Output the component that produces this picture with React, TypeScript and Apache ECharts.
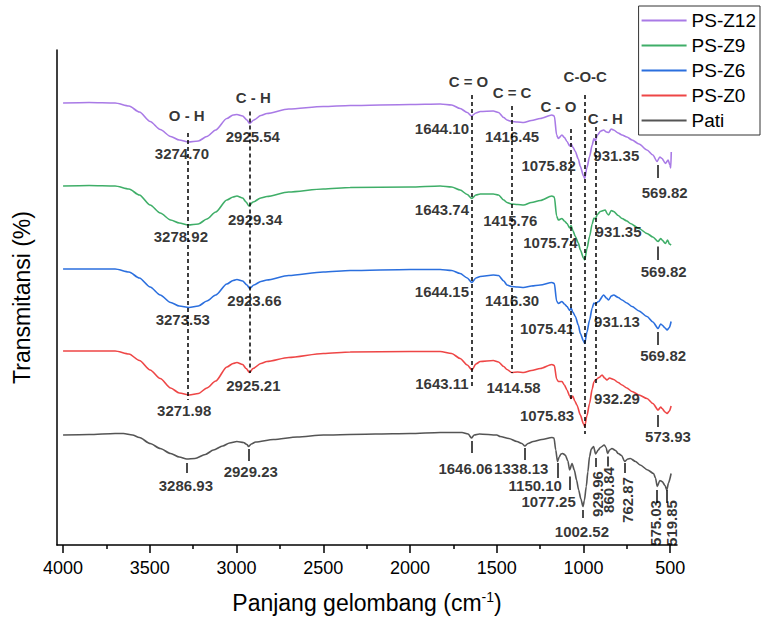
import React, { useEffect, useRef } from 'react';
import * as echarts from 'echarts';

const FONT = '"Liberation Sans", Arial, Helvetica, sans-serif';

// ---- spectra: [wavenumber (cm-1), transmittance (arb. %, offset per sample)] ----
const psZ12: number[][] = [
  [4000, 88.4], [3850, 88.5], [3700, 88.4], [3620, 87.8], [3560, 86.6], [3498, 84.7], [3440, 83.1], [3380, 81.7],
  [3330, 81.0], [3277, 80.6], [3220, 80.8], [3171, 81.7], [3120, 83.0], [3056, 85.3], [3020, 86.0], [2998, 86.1],
  [2965, 85.8], [2940, 85.0], [2925, 84.3], [2900, 85.0], [2860, 85.9], [2825, 86.3], [2700, 87.2], [2500, 87.7],
  [2345, 87.9], [2000, 88.1], [1826, 88.2], [1760, 88.0], [1711, 87.3], [1670, 86.5], [1646, 85.8], [1620, 86.4],
  [1595, 86.7], [1520, 86.8], [1490, 86.5], [1460, 85.5], [1441, 85.0], [1416, 84.7], [1380, 84.6], [1345, 84.5],
  [1300, 84.9], [1249, 85.3], [1182, 86.0], [1168, 85.8], [1155, 82.0], [1145, 81.3], [1124, 82.0], [1110, 81.5],
  [1095, 80.7], [1080, 79.8], [1072, 80.3], [1060, 79.5], [1047, 78.7], [1030, 77.2], [1018, 75.7], [1000, 73.8],
  [993, 73.3], [980, 75.5], [965, 77.7], [950, 80.0], [940, 81.3], [932, 80.8], [920, 82.0], [900, 82.8],
  [884, 83.0], [868, 82.6], [855, 82.5], [840, 83.2], [826, 83.0], [800, 82.4], [778, 82.0], [750, 81.6],
  [720, 81.0], [680, 80.2], [634, 79.0], [600, 78.0], [576, 76.7], [560, 77.6], [547, 77.3], [528, 76.3],
  [512, 77.0], [502, 76.0], [497, 75.4], [494, 78.6],
];

const psZ9: number[][] = [
  [4000, 71.8], [3850, 71.9], [3700, 71.8], [3620, 71.2], [3560, 70.0], [3498, 68.0], [3440, 66.4], [3380, 65.0],
  [3330, 64.4], [3279, 64.0], [3220, 64.2], [3171, 65.2], [3120, 66.6], [3056, 69.0], [3020, 69.6], [2998, 69.8],
  [2965, 69.4], [2945, 68.6], [2929, 67.8], [2905, 68.6], [2860, 69.4], [2825, 69.7], [2700, 70.6], [2500, 71.2],
  [2345, 71.5], [2000, 71.6], [1826, 71.8], [1760, 71.6], [1711, 71.0], [1670, 70.1], [1644, 69.3], [1620, 70.0],
  [1595, 70.2], [1520, 70.2], [1490, 70.0], [1460, 69.0], [1441, 68.5], [1416, 68.2], [1380, 68.1], [1345, 68.0],
  [1300, 68.5], [1249, 68.9], [1182, 69.8], [1168, 69.6], [1155, 65.8], [1145, 65.0], [1124, 65.3], [1110, 64.8],
  [1095, 64.3], [1080, 63.4], [1072, 63.9], [1060, 62.8], [1047, 61.7], [1030, 60.4], [1018, 59.0], [1000, 57.4],
  [993, 57.0], [980, 59.3], [965, 61.7], [950, 64.2], [940, 65.4], [932, 65.2], [920, 66.1], [903, 66.7],
  [875, 67.0], [862, 66.2], [855, 66.0], [840, 66.9], [826, 66.7], [800, 65.9], [778, 65.3], [750, 64.8],
  [730, 64.3], [680, 63.3], [634, 62.3], [600, 61.6], [570, 60.7], [555, 61.3], [547, 61.0], [528, 60.3],
  [515, 61.0], [505, 60.2], [495, 60.0],
];

const psZ6: number[][] = [
  [4000, 55.2], [3850, 55.2], [3700, 55.2], [3620, 54.6], [3560, 53.4], [3498, 51.6], [3440, 50.0], [3380, 48.5],
  [3330, 47.8], [3274, 47.5], [3220, 47.8], [3171, 48.8], [3120, 50.0], [3056, 52.2], [3020, 52.9], [2998, 53.1],
  [2965, 52.8], [2940, 52.0], [2924, 51.3], [2900, 52.0], [2860, 52.7], [2825, 53.0], [2700, 53.9], [2500, 54.6],
  [2345, 54.9], [2000, 55.1], [1826, 55.1], [1760, 54.9], [1711, 54.3], [1670, 53.4], [1644, 52.5], [1620, 53.4],
  [1595, 53.7], [1520, 54.0], [1490, 53.9], [1460, 52.8], [1441, 52.0], [1416, 51.7], [1380, 51.6], [1345, 51.5],
  [1300, 51.8], [1249, 52.0], [1182, 52.5], [1168, 52.3], [1155, 48.8], [1145, 48.3], [1124, 48.7], [1110, 48.2],
  [1095, 47.7], [1080, 46.9], [1072, 47.4], [1060, 46.5], [1047, 45.7], [1030, 44.0], [1018, 42.3], [1000, 40.8],
  [993, 40.3], [980, 42.6], [965, 45.0], [950, 47.4], [940, 48.4], [932, 48.2], [913, 48.7], [884, 50.0],
  [868, 49.4], [855, 49.0], [840, 49.8], [826, 50.0], [800, 49.5], [778, 49.0], [750, 48.4], [720, 47.7],
  [680, 46.8], [634, 45.7], [600, 44.6], [570, 43.3], [555, 44.2], [547, 44.0], [530, 43.4], [518, 43.0],
  [505, 43.5], [495, 44.7],
];

const psZ0: number[][] = [
  [4000, 38.8], [3850, 38.8], [3700, 38.8], [3620, 38.2], [3560, 36.9], [3498, 35.0], [3440, 33.3], [3380, 31.4],
  [3330, 30.4], [3272, 30.0], [3220, 30.3], [3171, 31.4], [3120, 32.8], [3056, 35.6], [3020, 36.3], [2998, 36.5],
  [2965, 36.1], [2945, 35.3], [2925, 34.5], [2905, 35.3], [2860, 36.3], [2825, 36.7], [2700, 37.5], [2500, 38.3],
  [2345, 38.6], [2000, 38.7], [1826, 38.7], [1760, 38.3], [1711, 37.3], [1670, 36.0], [1643, 35.0], [1620, 36.2],
  [1595, 36.7], [1520, 36.9], [1490, 36.6], [1460, 35.7], [1441, 35.1], [1414, 34.5], [1380, 34.6], [1345, 34.5],
  [1300, 34.9], [1249, 35.3], [1182, 36.1], [1168, 35.9], [1155, 33.2], [1145, 32.7], [1124, 32.7], [1110, 32.0],
  [1095, 31.0], [1080, 29.8], [1073, 29.3], [1062, 29.8], [1050, 28.8], [1038, 28.0], [1018, 26.0], [1000, 24.2],
  [993, 23.7], [980, 25.9], [965, 28.3], [950, 31.2], [940, 32.6], [932, 33.0], [910, 33.5], [893, 34.0],
  [878, 33.4], [865, 33.0], [850, 33.4], [826, 33.1], [800, 32.5], [778, 32.0], [750, 31.4], [720, 30.7],
  [680, 30.0], [634, 29.3], [600, 28.3], [570, 27.0], [555, 27.6], [547, 27.3], [530, 26.6], [518, 26.3],
  [505, 26.8], [495, 27.8],
];

const pati: number[][] = [
  [4000, 22.0], [3850, 22.1], [3700, 22.3], [3652, 22.3], [3600, 22.0], [3560, 21.5], [3498, 20.3], [3440, 19.3],
  [3380, 18.3], [3330, 17.6], [3287, 17.2], [3240, 17.3], [3180, 18.1], [3133, 19.0], [3080, 19.8], [3040, 20.4],
  [2998, 20.7], [2960, 20.5], [2940, 20.1], [2931, 19.7], [2915, 20.2], [2890, 20.6], [2787, 21.1], [2650, 21.6],
  [2499, 22.0], [2200, 22.2], [2000, 22.3], [1826, 22.5], [1700, 22.5], [1665, 22.2], [1646, 21.4], [1630, 22.0],
  [1600, 22.2], [1500, 22.0], [1480, 21.7], [1430, 21.3], [1384, 20.7], [1355, 20.3], [1338, 19.8], [1320, 20.3],
  [1290, 20.7], [1240, 21.1], [1182, 21.5], [1170, 21.4], [1160, 19.0], [1150, 16.7], [1140, 17.6], [1130, 18.2],
  [1120, 18.3], [1105, 18.0], [1090, 16.8], [1080, 15.0], [1066, 16.3], [1053, 15.0], [1040, 13.0], [1028, 11.0],
  [1015, 9.2], [1003, 7.7], [995, 8.9], [984, 11.7], [975, 14.6], [965, 17.7], [955, 19.2], [942, 19.7],
  [930, 18.2], [915, 19.0], [903, 19.5], [880, 20.0], [870, 19.5], [861, 18.3], [850, 19.0], [836, 19.3],
  [815, 18.9], [800, 18.3], [780, 17.9], [763, 16.7], [745, 17.2], [730, 17.3], [700, 16.7], [673, 16.0],
  [630, 15.0], [596, 14.3], [585, 13.4], [575, 11.7], [560, 12.9], [547, 12.7], [530, 11.9], [520, 11.0],
  [510, 12.4], [495, 14.3],
];

const seriesNames = ['PS-Z12', 'PS-Z9', 'PS-Z6', 'PS-Z0', 'Pati'];
const seriesData = [psZ12, psZ9, psZ6, psZ0, pati];
const seriesColors = ['#a97ae6', '#3fae68', '#2b6fde', '#ee4646', '#555555'];

const majorTicks = [500, 1000, 1500, 2000, 2500, 3000, 3500, 4000];
const minorTicks = [750, 1250, 1750, 2250, 2750, 3250, 3750];

// functional-group guide lines: wavenumber, top, bottom
const bondLines: number[][] = [
  [3280, 82.4, 29.0], [2926, 86.7, 34.4], [1646, 90.0, 31.6], [1414, 87.8, 34.4],
  [1073, 83.2, 28.8], [993, 90.0, 22.2], [932, 83.6, 31.8],
];
const bondNames = ['O - H', 'C - H', 'C = O', 'C = C', 'C - O', 'C-O-C', 'C - H'];
const bondLabelPos: number[][] = [
  [3287, 86.0], [2903, 89.5], [1663, 92.7], [1412, 90.5], [1144, 87.7], [990, 93.7], [874, 85.3],
];

// peak labels: text, position [wn, T], rotated?
const peakTexts = [
  '3274.70', '2925.54', '1644.10', '1416.45', '1075.82', '931.35', '569.82',
  '3278.92', '2929.34', '1643.74', '1415.76', '1075.74', '931.35', '569.82',
  '3273.53', '2923.66', '1644.15', '1416.30', '1075.41', '931.13', '569.82',
  '3271.98', '2925.21', '1643.11', '1414.58', '1075.83', '932.29', '573.93',
  '3286.93', '2929.23', '1646.06', '1338.13', '1150.10', '1077.25', '1002.52',
  '929.96', '860.84', '762.87', '575.03', '519.85',
];
const peakPos: number[][] = [
  [3315, 78.3], [2906, 81.8], [1816, 83.3], [1412, 81.7], [1201, 76.0], [811, 78.0], [532, 70.5],
  [3321, 61.7], [2893, 65.1], [1816, 67.1], [1422, 65.0], [1191, 60.5], [798, 62.7], [538, 54.7],
  [3310, 45.1], [2897, 48.9], [1816, 50.7], [1412, 49.0], [1210, 43.3], [807, 44.7], [541, 38.0],
  [3302, 27.0], [2903, 32.0], [1816, 32.3], [1403, 31.5], [1210, 26.0], [807, 29.3], [513, 21.8],
  [3292, 12.0], [2918, 14.7], [1680, 15.4], [1359, 15.3], [1278, 12.0], [1201, 8.7], [1009, 2.7],
  [922, 10.2], [855, 11.0], [749, 9.0], [586, 4.4], [490, 4.4],
];
const peakRotated = [
  0, 0, 0, 0, 0, 0, 0,
  0, 0, 0, 0, 0, 0, 0,
  0, 0, 0, 0, 0, 0, 0,
  0, 0, 0, 0, 0, 0, 0,
  0, 0, 0, 0, 0, 0, 0,
  1, 1, 1, 1, 1,
];

// short solid marker ticks under peaks: wn, top, bottom
const peakTicks: number[][] = [
  [569.82, 76.0, 73.4], [569.82, 59.7, 57.0], [569.82, 42.6, 40.0], [573.93, 26.0, 23.6],
  [3286.93, 16.4, 14.4], [2929.23, 19.2, 16.8], [1646.06, 20.8, 18.4], [1338.13, 19.4, 17.0],
  [1150.1, 16.4, 13.4], [1077.25, 13.7, 11.0], [1002.52, 7.0, 5.4], [929.96, 17.4, 15.6],
  [860.84, 17.7, 15.7], [762.87, 16.4, 14.4], [575.03, 11.0, 8.4], [519.85, 11.0, 8.4],
];

function buildOption() {
  const axisCommon = {
    type: 'value',
    min: 461,
    max: 4035,
    inverse: true,
    position: 'bottom',
    splitLine: { show: false },
  };
  const lineSeries = seriesNames.map((name, i) => ({
    type: 'line',
    name,
    data: seriesData[i],
    xAxisIndex: 0,
    yAxisIndex: 0,
    showSymbol: false,
    symbol: 'none',
    smooth: 0.25,
    smoothMonotone: 'x',
    color: seriesColors[i],
    lineStyle: { color: seriesColors[i], width: 1.6 },
    silent: true,
    z: 3,
  }));

  const markData: any[] = [];
  bondLines.forEach((b) => {
    markData.push([
      { coord: [b[0], b[1]], lineStyle: { type: [4, 3], width: 1.5, color: '#000' } },
      { coord: [b[0], b[2]] },
    ]);
  });
  peakTicks.forEach((t) => {
    markData.push([
      { coord: [t[0], t[1]], lineStyle: { type: 'solid', width: 1.5, color: '#111' } },
      { coord: [t[0], t[2]] },
    ]);
  });

  const labelStyle = {
    show: true,
    position: 'inside',
    formatter: '{b}',
    fontFamily: FONT,
    fontSize: 15,
    fontWeight: 'bold',
    color: '#000',
  };

  const labelSeries = {
    type: 'scatter',
    name: 'peak-labels',
    symbolSize: 0.1,
    itemStyle: { color: 'transparent' },
    silent: true,
    z: 5,
    data: peakTexts.map((txt, i) => ({
      name: txt,
      value: peakPos[i],
      label: { rotate: peakRotated[i] ? 90 : 0 },
    })),
    label: labelStyle,
    markLine: {
      silent: true,
      symbol: ['none', 'none'],
      label: { show: false },
      emphasis: { disabled: true },
      data: markData,
    },
  };

  const bondSeries = {
    type: 'scatter',
    name: 'bond-labels',
    symbolSize: 0.1,
    itemStyle: { color: 'transparent' },
    silent: true,
    z: 5,
    data: bondNames.map((txt, i) => ({ name: txt, value: bondLabelPos[i] })),
    label: labelStyle,
  };

  return {
    animation: false,
    backgroundColor: '#ffffff',
    grid: { left: 57, right: 86, top: 50, bottom: 79, containLabel: false, outerBoundsMode: 'none' },
    legend: {
      data: seriesNames,
      orient: 'vertical',
      right: 3,
      top: 6,
      icon: 'rect',
      itemWidth: 45,
      itemHeight: 2,
      itemGap: 6,
      padding: [5, 4, 5, 3],
      borderColor: '#333',
      borderWidth: 1,
      backgroundColor: '#fff',
      textStyle: { fontFamily: FONT, fontSize: 19, color: '#000', lineHeight: 19 },
      selectedMode: false,
    },
    xAxis: [
      {
        ...axisCommon,
        axisLine: { show: true, onZero: false, lineStyle: { color: '#000', width: 1.5 } },
        axisTick: { show: true, customValues: majorTicks, length: 8, lineStyle: { color: '#000', width: 1.5 } },
        axisLabel: {
          show: true,
          customValues: majorTicks,
          formatter: (v: number) => String(v),
          fontFamily: FONT,
          fontSize: 18,
          color: '#000',
          margin: 14,
        },
        name: '{a|Panjang gelombang (cm}{s|-1}{a|)}',
        nameLocation: 'middle',
        nameGap: 45,
        nameTextStyle: {
          rich: {
            a: { fontFamily: FONT, fontSize: 23, color: '#000', lineHeight: 26 },
            s: { fontFamily: FONT, fontSize: 14, color: '#000', lineHeight: 14, verticalAlign: 'top' },
          },
        },
      },
      {
        ...axisCommon,
        axisLine: { show: false, onZero: false },
        axisTick: { show: true, customValues: minorTicks, length: 4, lineStyle: { color: '#000', width: 1.5 } },
        axisLabel: { show: false },
      },
    ],
    yAxis: {
      type: 'value',
      min: 0,
      max: 99,
      axisLine: { show: true, onZero: false, lineStyle: { color: '#000', width: 1.5 } },
      axisTick: { show: false },
      axisLabel: { show: false },
      splitLine: { show: false },
      name: 'Transmitansi (%)',
      nameLocation: 'middle',
      nameGap: 24,
      nameTextStyle: { fontFamily: FONT, fontSize: 23, color: '#000' },
    },
    series: [...lineSeries, labelSeries, bondSeries],
  };
}

export default function App() {
  const ref = useRef<HTMLDivElement>(null);
  useEffect(() => {
    document.body.style.margin = '0';
    const chart = echarts.init(ref.current as HTMLDivElement, null, { renderer: 'svg' });
    chart.setOption(buildOption() as any);
    return () => chart.dispose();
  }, []);
  return <div ref={ref} style={{ width: 763, height: 624, position: 'absolute', left: 0, top: 0 }} />;
}
